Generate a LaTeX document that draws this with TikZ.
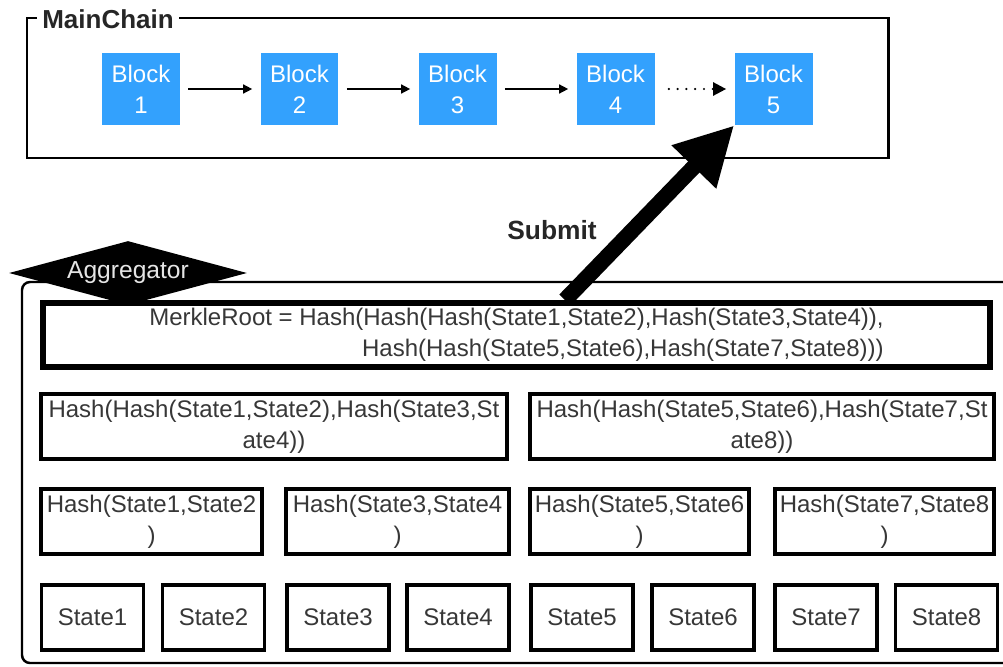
\documentclass[tikz,border=0pt]{standalone}
\usepackage{fontspec}
\setmainfont{Liberation Sans}
\usetikzlibrary{arrows.meta,shapes.geometric}
\definecolor{blockblue}{RGB}{51,161,253}
\definecolor{txtgray}{RGB}{55,55,55}
\tikzset{
  txt/.style={font=\fontsize{13.66}{17.6}\selectfont, text=txtgray},
  blk/.style={txt, fill=blockblue, text=white, minimum width=1.56cm, minimum height=1.44cm, inner sep=0pt, align=center},
  hbox/.style={txt, draw, fill=white, line width=2.2pt, minimum height=1.3cm, inner sep=0pt, align=center},
  statebox/.style={hbox, minimum width=2.04cm},
  link/.style={line width=0.85pt, -{Triangle[length=0.18cm,width=0.18cm]}, shorten <=0.16cm, shorten >=0.16cm},
}
\begin{document}
\begin{tikzpicture}[x=0.02cm, y=-0.02cm]
      \useasboundingbox (0,0) rectangle (1003,666);
      \clip (0,0) rectangle (1003,666);
      % main chain
      \draw[line width=1.7pt] (27,18) rectangle (888,158);
      \node[fill=white, inner xsep=0.1cm, inner ysep=1pt, text=black!85, font=\bfseries\fontsize{14.8}{17}\selectfont] (title) at (108,19) {MainChain};
      \node[blk] (b1) at (141,89) {Block\\1};
      \node[blk] (b2) at (299.5,89) {Block\\2};
      \node[blk] (b3) at (457.5,89) {Block\\3};
      \node[blk] (b4) at (615.5,89) {Block\\4};
      \node[blk] (b5) at (773.5,89) {Block\\5};
      \draw[link] (b1) -- (b2);
      \draw[link] (b2) -- (b3);
      \draw[link] (b3) -- (b4);
      \draw[line width=1.4pt, line cap=round, dash pattern=on 0pt off 5pt, shorten <=0.28cm, shorten >=0.16cm,
        -{Triangle[length=0.26cm,width=0.26cm,line cap=butt]}] (b4) -- (b5);
      % aggregator
      \draw[line width=1.4pt, rounded corners=0.16cm] (22,282) rectangle (1040,663);
      \node[txt, draw, fill=white, line width=3.4pt, minimum width=18.94cm, minimum height=1.28cm, inner sep=0pt, align=right] (root) at (516.5,335)
        {MerkleRoot = Hash(Hash(Hash(State1,State2),Hash(State3,State4)),\\Hash(Hash(State5,State6),Hash(State7,State8)))};
      \node[diamond, fill=black, aspect=3.7, inner sep=0pt, minimum width=4.76cm, minimum height=1.28cm, text=black!10, font=\fontsize{14}{17}\selectfont] (agg) at (128,273) {Aggregator};
      \node[hbox, minimum width=9.32cm] (h14) at (274,426.5) {Hash(Hash(State1,State2),Hash(State3,St\\ate4))};
      \node[hbox, minimum width=9.28cm] (h58) at (762,426.5) {Hash(Hash(State5,State6),Hash(State7,St\\ate8))};
      \node[hbox, minimum width=4.42cm] (h12) at (151.5,521.5) {Hash(State1,State2\\)};
      \node[hbox, minimum width=4.46cm] (h34) at (397.5,521.5) {Hash(State3,State4\\)};
      \node[hbox, minimum width=4.38cm] (h56) at (639.5,521.5) {Hash(State5,State6\\)};
      \node[hbox, minimum width=4.38cm] (h78) at (884.5,521.5) {Hash(State7,State8\\)};
      \node[statebox] (s1) at (92.5,617.5) {State1};
      \node[statebox] (s2) at (213.5,617.5) {State2};
      \node[statebox] (s3) at (338,617.5) {State3};
      \node[statebox] (s4) at (458,617.5) {State4};
      \node[statebox] (s5) at (582,617.5) {State5};
      \node[statebox] (s6) at (703,617.5) {State6};
      \node[statebox] (s7) at (826,617.5) {State7};
      \node[statebox] (s8) at (946.5,617.5) {State8};
      % submit
      \coordinate (sub) at (565,300);
      \draw[line width=9pt, -{Triangle[length=1.16cm,width=1.16cm]}] (sub) -- (b5.south west);
      \node[font=\bfseries\fontsize{15}{18}\selectfont, text=black!85] (sublbl) at (552,230) {Submit};
    \end{tikzpicture}
\end{document}
